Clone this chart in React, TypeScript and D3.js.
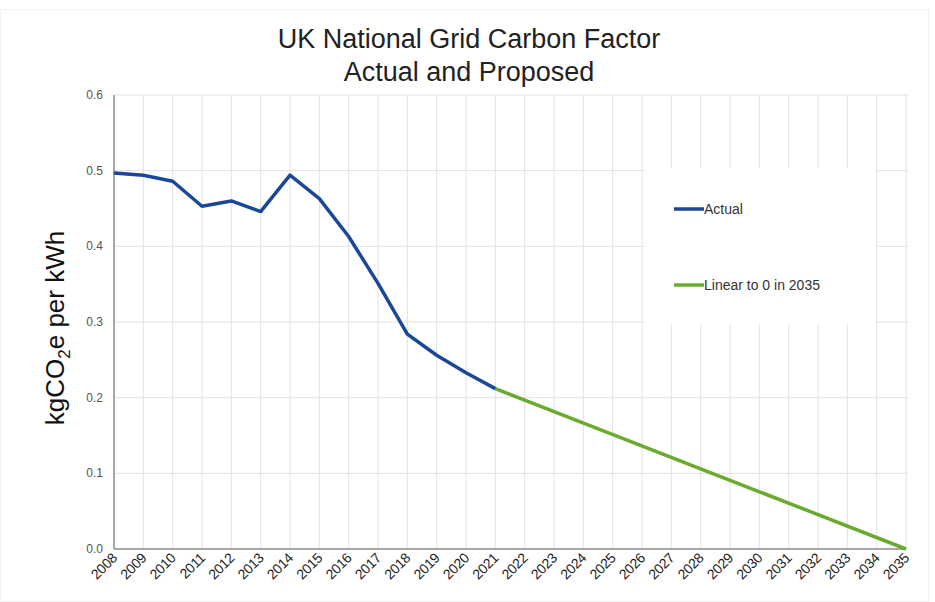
import * as d3 from 'd3';
import React, {useRef, useEffect} from 'react';

// carbon factor, kgCO2e per kWh
const actualYears = [2008, 2009, 2010, 2011, 2012, 2013, 2014, 2015, 2016, 2017, 2018, 2019, 2020, 2021];
const actualValues = [0.497, 0.494, 0.486, 0.453, 0.460, 0.446, 0.494, 0.463, 0.413, 0.351, 0.284, 0.256, 0.233, 0.212];
const linearYears = [2021, 2035];
const linearValues = [0.212, 0];
const yTicks = [0, 0.1, 0.2, 0.3, 0.4, 0.5, 0.6];
const xTicks = d3.range(2008, 2036);

const W = 935, H = 602;

const App = () => {
  const ref = useRef<SVGSVGElement>(null);

  useEffect(() => {
    const svg = d3.select(ref.current);
    svg.selectAll('*').remove();

    const x = d3.scaleLinear().domain([2008, 2035]).range([114, 906]);
    const y = d3.scaleLinear().domain([0, 0.6]).range([549, 95]);

    // faint outer frame
    svg.append('rect').attr('x', 0.5).attr('y', 9.5).attr('width', 928).attr('height', 592)
      .attr('fill', 'none').attr('stroke', '#f0f0f0');

    // grid
    svg.append('g').selectAll('line').data(xTicks.slice(1)).enter().append('line')
      .attr('x1', d => x(d)).attr('x2', d => x(d)).attr('y1', y(0.6)).attr('y2', y(0))
      .attr('stroke', '#e2e2e2').attr('stroke-width', 1);
    svg.append('g').selectAll('line').data(yTicks.slice(1)).enter().append('line')
      .attr('x1', x(2008)).attr('x2', x(2035) + 2).attr('y1', d => y(d)).attr('y2', d => y(d))
      .attr('stroke', '#e2e2e2').attr('stroke-width', 1);

    // legend background hides the grid
    svg.append('rect').attr('x', 645).attr('y', 168).attr('width', 231).attr('height', 156).attr('fill', '#fff');

    // axes
    svg.append('line').attr('x1', x(2008)).attr('x2', x(2008)).attr('y1', y(0.6)).attr('y2', y(0))
      .attr('stroke', '#8a8a8a').attr('stroke-width', 1.5);
    svg.append('line').attr('x1', x(2008)).attr('x2', x(2035)).attr('y1', y(0)).attr('y2', y(0))
      .attr('stroke', '#8a8a8a').attr('stroke-width', 1.5);

    // y tick labels
    svg.append('g').selectAll('text').data(yTicks).enter().append('text')
      .attr('x', 103).attr('y', d => y(d) + 4).attr('text-anchor', 'end')
      .attr('font-size', 12).attr('fill', '#555').text(d => d3.format('.1f')(d));

    // x tick labels, rotated
    svg.append('g').selectAll('text').data(xTicks).enter().append('text')
      .attr('transform', d => 'translate(' + (x(d) + 4) + ',' + 559 + ') rotate(-45)')
      .attr('text-anchor', 'end').attr('font-size', 14).attr('letter-spacing', -0.3)
      .attr('fill', '#222').text(d => d);

    const line = d3.line<[number, number]>().x(d => x(d[0])).y(d => y(d[1]));

    svg.append('path').datum(d3.zip(linearYears, linearValues) as [number, number][])
      .attr('d', line).attr('fill', 'none').attr('stroke', '#6aab2e').attr('stroke-width', 3.5)
      .attr('stroke-linejoin', 'round');
    svg.append('path').datum(d3.zip(actualYears, actualValues) as [number, number][])
      .attr('d', line).attr('fill', 'none').attr('stroke', '#1a4797').attr('stroke-width', 3.5)
      .attr('stroke-linejoin', 'round');

    // legend
    const legend = [
      {name: 'Actual', color: '#1a4797', y: 209},
      {name: 'Linear to 0 in 2035', color: '#6aab2e', y: 285},
    ];
    legend.forEach(l => {
      svg.append('line').attr('x1', 674).attr('x2', 704).attr('y1', l.y).attr('y2', l.y)
        .attr('stroke', l.color).attr('stroke-width', 3.5);
      svg.append('text').attr('x', 704).attr('y', l.y + 5).attr('font-size', 14).attr('fill', '#333').text(l.name);
    });

    // title
    svg.append('text').attr('x', 469).attr('y', 48).attr('text-anchor', 'middle')
      .attr('font-size', 27).attr('fill', '#222').text('UK National Grid Carbon Factor');
    svg.append('text').attr('x', 469).attr('y', 81).attr('text-anchor', 'middle')
      .attr('font-size', 27).attr('fill', '#222').text('Actual and Proposed');

    // y label with subscript
    const yl = svg.append('text').attr('transform', 'translate(64,328) rotate(-90)')
      .attr('text-anchor', 'middle').attr('font-size', 26).attr('fill', '#111');
    yl.append('tspan').text('kgCO');
    yl.append('tspan').attr('font-size', 17).attr('dy', 6).text('2');
    yl.append('tspan').attr('dy', -6).text('e per kWh');
  });

  return (
    <svg ref={ref} width={W} height={H}
      style={{position: 'absolute', left: 0, top: 0, fontFamily: 'Arial, Liberation Sans, sans-serif', background: '#fff'}}>
    </svg>
  );
};

export default App;
